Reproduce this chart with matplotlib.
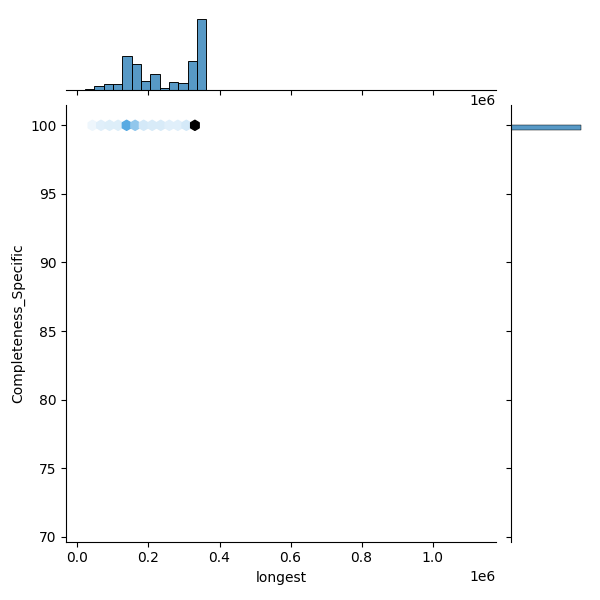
import numpy as np
import pandas as pd
import matplotlib
matplotlib.use("Agg")
import matplotlib.pyplot as plt
import seaborn as sns
from matplotlib.colors import to_rgba

# ---- data ----
x_name = "longest"
y_name = "Completeness_Specific"

# marginal histogram of "longest" (left bin edge, bin width, counts)
x_hist_start = 21600.0
x_hist_binwidth = 26260.0
x_hist_counts = [5, 14, 17, 17, 101, 77, 26, 47, 8, 23, 20, 86, 212]

# hexbin cells along Completeness_Specific = 100
hex_x = [42300, 66300, 90400, 114400, 138400, 162400, 186500,
         210500, 234500, 258600, 282600, 306600, 330700]
hex_y = [100.0] * len(hex_x)
hex_counts = [5, 8, 9, 9, 39, 26, 11, 10, 10, 8, 8, 11, 100]

# marginal histogram of Completeness_Specific
y_hist_low = [99.66]
y_hist_binwidth = 0.34
y_hist_counts = [653]

# data extent of the original sample (includes an outlier)
x_extent = (18300.0, 1123700.0)
y_extent = (71.1, 100.0)

df = pd.DataFrame({x_name: hex_x, y_name: hex_y})

g = sns.JointGrid(data=df, x=x_name, y=y_name, height=6)

base = "#1f77b4"
colors = [sns.utils.set_hls_values(matplotlib.colors.to_rgb(base), l=l)
          for l in np.linspace(1, 0, 12)]
cmap = sns.blend_palette(colors, as_cmap=True)

g.ax_joint.hexbin(hex_x, hex_y, C=hex_counts, reduce_C_function=np.sum,
                  gridsize=(46, 26),
                  extent=(x_extent[0], x_extent[1], y_extent[0], y_extent[1]),
                  cmap=cmap, vmin=1, vmax=max(hex_counts), mincnt=1)

lefts = [x_hist_start + i * x_hist_binwidth for i in range(len(x_hist_counts))]
g.ax_marg_x.bar(lefts, x_hist_counts, width=x_hist_binwidth, align="edge",
                facecolor=to_rgba(base, 0.75), edgecolor="black", linewidth=0.67)

g.ax_marg_y.barh(y_hist_low, y_hist_counts, height=y_hist_binwidth, align="edge",
                 facecolor=to_rgba(base, 0.75), edgecolor="black", linewidth=0.34)

g.ax_joint.set_xlim(-31000, 1178600)
g.ax_joint.set_ylim(69.64, 101.46)

g.figure.savefig("out.png", dpi=100)
